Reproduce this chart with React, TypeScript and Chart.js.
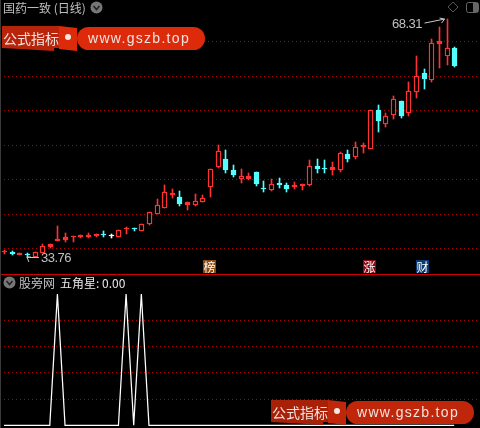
import React, { useEffect, useRef } from "react";
import { Chart, registerables } from "chart.js";

Chart.register(...registerables);

const open = [34.44,34.49,34.10,34.20,33.81,34.39,35.26,36.13,36.28,36.66,36.66,36.71,36.81,37.15,36.81,36.71,37.78,37.97,37.58,38.55,40.05,40.92,42.81,42.47,41.36,41.36,41.79,43.97,46.87,47.94,46.39,45.04,45.09,46.10,43.78,43.54,44.50,44.21,43.87,44.12,44.26,46.97,46.63,46.44,46.44,48.72,48.33,49.78,49.49,55.10,53.12,54.43,56.41,54.67,57.72,60.48,59.46,64.69,62.94,64.11];
const close = [34.53,34.20,34.34,34.05,34.44,35.31,35.60,36.32,36.66,36.71,36.91,37.00,37.10,36.95,36.81,37.63,37.97,37.83,38.50,40.25,41.26,43.15,43.10,41.46,41.70,41.84,42.28,46.49,49.10,46.39,45.67,45.52,45.47,44.41,43.68,44.31,44.21,43.63,44.16,44.31,46.92,46.54,46.59,46.78,48.81,47.99,49.68,49.97,55.06,53.51,54.18,56.65,54.23,57.86,60.04,59.61,64.83,65.12,64.11,61.49];
const high = [34.78,34.63,34.34,34.39,34.44,35.65,35.60,38.26,37.24,36.81,36.95,37.24,37.10,37.58,37.10,37.63,38.16,37.97,38.50,40.25,42.13,44.21,43.59,43.34,41.70,42.91,42.76,46.49,50.02,49.30,47.12,46.49,45.91,46.10,44.79,45.09,45.23,44.46,44.65,44.31,47.84,47.99,47.84,47.55,49.01,49.30,50.46,50.31,55.06,55.83,54.67,57.14,56.41,59.17,62.94,61.06,65.41,67.16,68.31,64.25];
const low = [34.20,34.05,34.10,33.76,33.81,34.29,35.02,36.13,35.94,35.99,36.52,36.52,36.62,36.71,36.47,36.71,37.10,37.49,37.58,38.36,40.05,40.92,42.33,41.16,40.58,41.16,41.79,42.52,46.73,45.91,45.42,44.55,44.94,44.07,43.25,43.34,43.78,43.25,43.63,43.49,44.12,45.96,45.96,45.67,46.10,47.55,47.99,48.86,49.49,51.91,52.64,53.80,53.94,54.23,56.85,58.15,59.17,61.20,61.64,61.35];
const pentagram = [0,0,0,0,0,0,0,100,0,0,0,0,0,0,0,0,100,0,100,0,0,0,0,0,0,0,0,0,0,0,0,0,0,0,0,0,0,0,0,0,0,0,0,0,0,0,0,0,0,0,0,0,0,0,0,0,0,0,0,0];
const priceGrid = [35, 40, 45, 50, 55, 60, 65];
const signalGrid = [20, 40, 60, 80];

const RED = "#ff3232";
const CYAN = "#54ffff";
const WHITE = "#ffffff";
const GRID = "#b00000";
const X_MIN = -0.524;
const X_MAX = 62.386;
const SOLID_BODY = 0.45;

const colorOf = (i: number) => (close[i] > open[i] ? RED : close[i] < open[i] ? CYAN : WHITE);
const fillOf = (i: number) => (close[i] - open[i] > SOLID_BODY ? "#000" : colorOf(i));

const xScale = { type: "linear", min: X_MIN, max: X_MAX, display: false, offset: false };
const yScale = (min: number, max: number, ticks: number[]) => ({
  type: "linear",
  min,
  max,
  afterFit: (s: any) => { s.width = 0; },
  afterBuildTicks: (s: any) => { s.ticks = ticks.map((value) => ({ value })); },
  ticks: { display: false },
  border: { display: false, dash: [1, 3] },
  grid: { color: GRID, lineWidth: 1, drawTicks: false },
});

// Keeps the library's bars on whole device pixels, so that the thin strokes stay crisp.
const pixelSnap = {
  id: "pixelSnap",
  beforeDatasetsDraw(chart: any) {
    chart.getSortedVisibleDatasetMetas().forEach((meta: any) => {
      meta.data.forEach((el: any) => {
        el.x = Math.round(el.x) + 0.5;
        const a = Math.round(el.y);
        const b = Math.round(el.base);
        el.y = a;
        el.base = a === b ? a + 1 : b;
        el.height = el.base - el.y;
      });
    });
  },
};

const arrows = {
  id: "arrows",
  afterDatasetsDraw(chart: any) {
    const { ctx, scales } = chart;
    const iMax = high.indexOf(Math.max(...high));
    const iMin = low.indexOf(Math.min(...low));
    const hx = scales.x.getPixelForValue(iMax) - 2;
    const hy = scales.y.getPixelForValue(high[iMax]);
    const lx = scales.x.getPixelForValue(iMin);
    const ly = scales.y.getPixelForValue(low[iMin]);
    ctx.save();
    ctx.strokeStyle = "#c8c8c8";
    ctx.lineWidth = 1;
    ctx.beginPath();
    ctx.moveTo(hx - 20, hy + 4);
    ctx.lineTo(hx, hy);
    ctx.moveTo(hx - 5, hy - 1);
    ctx.lineTo(hx, hy);
    ctx.lineTo(hx - 3, hy + 4);
    ctx.moveTo(lx + 12, ly + 0.5);
    ctx.lineTo(lx, ly + 0.5);
    ctx.moveTo(lx + 4, ly);
    ctx.lineTo(lx, ly);
    ctx.lineTo(lx + 2, ly + 5);
    ctx.stroke();
    ctx.restore();
  },
};

const CJK = '"Noto Sans CJK SC", "Noto Sans", sans-serif';

function Text(p: { x: number; y: number; size?: number; color?: string; font?: string; spacing?: number; children: React.ReactNode }) {
  return (
    <span style={{ position: "absolute", left: p.x, top: p.y, fontSize: p.size ?? 12, lineHeight: "14px", letterSpacing: p.spacing ?? 0, color: p.color ?? "#c0c0c0", fontFamily: p.font ?? CJK, whiteSpace: "nowrap" }}>
      {p.children}
    </span>
  );
}

function Badge(p: { x: number; bg: string; ch: string }) {
  return (
    <span style={{ position: "absolute", left: p.x, top: 260, width: 13, height: 13, background: p.bg, color: "#fff", fontFamily: CJK, fontSize: 12, lineHeight: "13px", textAlign: "center" }}>
      {p.ch}
    </span>
  );
}

function Chevron(p: { x: number; y: number }) {
  return (
    <svg style={{ position: "absolute", left: p.x, top: p.y }} width="13" height="13">
      <circle cx="6.5" cy="6.5" r="6" fill="#777" />
      <path d="M3.5 5 L6.5 8.5 L9.5 5" stroke="#222" strokeWidth="1.6" fill="none" />
    </svg>
  );
}

function Watermark(p: { x: number; y: number; dim?: boolean }) {
  const a = p.dim ? "#a82008" : "#b8240a";
  const b = p.dim ? "#c0260a" : "#dc2a0a";
  return (
    <div style={{ position: "absolute", left: p.x, top: p.y, width: 204, height: 26 }}>
      <div style={{ position: "absolute", left: 0, top: 0, width: 58, height: 25, background: a, clipPath: "polygon(0 0,100% 0,100% 88%,90% 88%,90% 100%,0 88%)" }} />
      <div style={{ position: "absolute", left: 57, top: 0, width: 18, height: 25, background: b, clipPath: "polygon(0 0,100% 8%,100% 100%,0 92%)" }} />
      <div style={{ position: "absolute", left: 63, top: 8, width: 6, height: 6, borderRadius: 3, background: "#f4e8e4" }} />
      <div style={{ position: "absolute", left: 75, top: 1, width: 128, height: 23, borderRadius: 12, background: b }} />
      <span style={{ position: "absolute", left: 1, top: 3, fontFamily: CJK, fontSize: 14, lineHeight: "18px", color: "#f0e4e0", whiteSpace: "nowrap" }}>公式指标</span>
      <span style={{ position: "absolute", left: 86, top: 3, fontFamily: '"Liberation Sans", sans-serif', fontSize: 14, letterSpacing: 1.3, lineHeight: "18px", color: "#f0e4e0", whiteSpace: "nowrap" }}>www.gszb.top</span>
    </div>
  );
}

export default function App() {
  const topRef = useRef<HTMLCanvasElement>(null);
  const botRef = useRef<HTMLCanvasElement>(null);

  useEffect(() => {
    document.documentElement.style.background = "#000";
    document.body.style.margin = "0";
    const xs = open.map((_, i) => i);
    const top = new Chart(topRef.current!, {
      type: "bar",
      data: {
        datasets: [
          {
            order: 2,
            data: xs.map((i) => ({ x: i, y: [low[i], high[i]] })),
            barThickness: 1,
            maxBarThickness: 1,
            backgroundColor: xs.map(colorOf),
            borderWidth: 0,
            grouped: false,
          },
          {
            order: 1,
            data: xs.map((i) => ({ x: i, y: [open[i], close[i]] })),
            barThickness: 5,
            maxBarThickness: 5,
            minBarLength: 1,
            backgroundColor: xs.map(fillOf),
            borderColor: xs.map(colorOf),
            borderWidth: 1.4,
            borderSkipped: false,
            grouped: false,
          },
        ],
      },
      options: {
        animation: false,
        responsive: false,
        maintainAspectRatio: false,
        layout: { padding: 0 },
        plugins: { legend: { display: false }, tooltip: { enabled: false } },
        scales: { x: xScale, y: yScale(31.29, 71.08, priceGrid) },
      },
      plugins: [pixelSnap, arrows],
    } as any);
    const bot = new Chart(botRef.current!, {
      type: "line",
      data: {
        datasets: [
          {
            data: xs.map((i) => ({ x: i, y: pentagram[i] })),
            borderColor: "#ffffff",
            borderWidth: 1.25,
            pointRadius: 0,
            tension: 0,
          },
        ],
      },
      options: {
        animation: false,
        responsive: false,
        maintainAspectRatio: false,
        layout: { padding: 0 },
        plugins: { legend: { display: false }, tooltip: { enabled: false } },
        scales: { x: xScale, y: yScale(-2.05, 114.5, signalGrid) },
      },
    } as any);
    return () => {
      top.destroy();
      bot.destroy();
    };
  }, []);

  return (
    <div style={{ position: "absolute", left: 0, top: 0, width: 480, height: 428, background: "#000", overflow: "hidden" }}>
      <canvas ref={topRef} width={480} height={274} style={{ position: "absolute", left: 0, top: 0 }} />
      <canvas ref={botRef} width={480} height={153} style={{ position: "absolute", left: 0, top: 275 }} />
      <div style={{ position: "absolute", left: 0, top: 0, width: 1, height: 428, background: "#3a3a3a" }} />
      <div style={{ position: "absolute", left: 1, top: 274, width: 479, height: 1, background: "#d00000" }} />
      <Text x={3} y={1} size={12}>国药一致 (日线)</Text>
      <Chevron x={90} y={1} />
      <svg style={{ position: "absolute", left: 446, top: 0 }} width="34" height="14">
        <path d="M7 2 L12 7 L7 12 L2 7 Z" stroke="#555" fill="none" />
        <rect x="20.5" y="2.5" width="12" height="10" rx="2" stroke="#666" fill="none" />
        <rect x="27" y="3" width="5" height="9" fill="#666" />
      </svg>
      <Watermark x={2} y={26} />
      <Text x={392} y={17} size={13} font='"Liberation Sans", sans-serif' spacing={-0.5}>68.31</Text>
      <Text x={41} y={251} size={13} font='"Liberation Sans", sans-serif' spacing={-0.5}>33.76</Text>
      <Badge x={203} bg="#8a4a10" ch="榜" />
      <Badge x={363} bg="#8b0a14" ch="涨" />
      <Badge x={416} bg="#0a3a70" ch="财" />
      <Chevron x={3} y={276} />
      <Text x={19} y={276} size={12}>股旁网</Text>
      <Text x={60} y={276} size={12} color="#e8e8e8">五角星: 0.00</Text>
      <Watermark x={271} y={400} dim />
    </div>
  );
}
